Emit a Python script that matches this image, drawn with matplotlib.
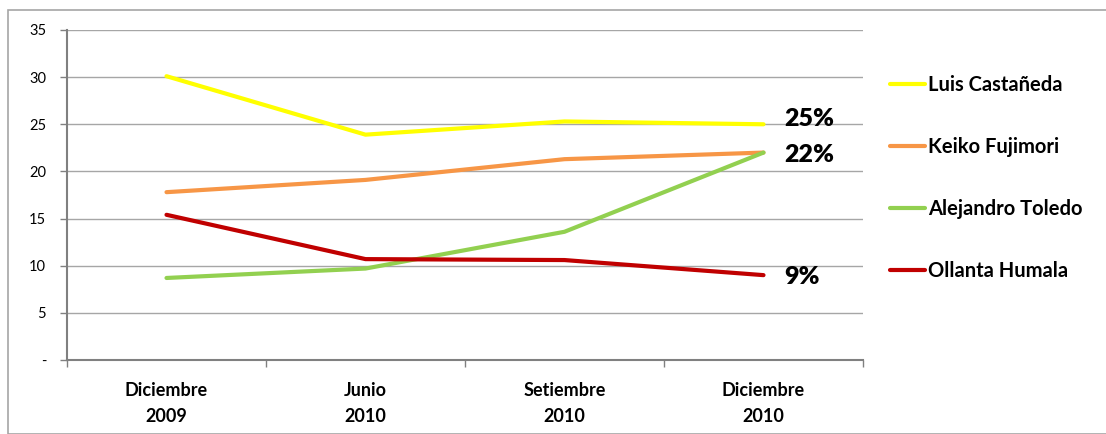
import matplotlib
matplotlib.use("Agg")
import matplotlib.pyplot as plt
from matplotlib.patches import Rectangle

# data
categories = ["Diciembre\n2009", "Junio\n2010", "Setiembre\n2010", "Diciembre\n2010"]
castaneda = [30.1, 23.9, 25.3, 25.0]
fujimori = [17.8, 19.1, 21.3, 22.0]
toledo = [8.7, 9.7, 13.6, 22.0]
humala = [15.4, 10.7, 10.6, 9.0]
series_names = ["Luis Castañeda", "Keiko Fujimori", "Alejandro Toledo", "Ollanta Humala"]
end_labels = {"Luis Castañeda": "25%", "Alejandro Toledo": "22%", "Ollanta Humala": "9%"}
y_ticks = [0, 5, 10, 15, 20, 25, 30, 35]
y_tick_labels = ["-", "5", "10", "15", "20", "25", "30", "35"]

colors = ["#FFFF00", "#F79646", "#92D050", "#C00000"]
label_offsets = {"Luis Castañeda": 4, "Alejandro Toledo": -2, "Ollanta Humala": -1}

plt.rcParams['font.family'] = ['Lato', 'DejaVu Sans']

fig = plt.figure(figsize=(11.06, 4.34), dpi=100)
# outer chart border
fig.patches.append(Rectangle((8 / 1106, 0), 1.0, 1 - 10 / 434, transform=fig.transFigure,
                             fill=False, edgecolor="#a6a6a6", linewidth=1.2))

ax = fig.add_axes([67 / 1106, 74 / 434, (863 - 67) / 1106, 330 / 434])

x = list(range(len(categories)))
lines = []
for name, vals, c in zip(series_names, [castaneda, fujimori, toledo, humala], colors):
    ln, = ax.plot(x, vals, color=c, linewidth=3, solid_capstyle="round", label=name)
    lines.append(ln)
    if name in end_labels:
        ax.annotate(end_labels[name], (x[-1], vals[-1]), xytext=(15, label_offsets[name]),
                    textcoords="offset points", fontsize=18, fontweight="heavy",
                    va="center", ha="left")

ax.set_xlim(-0.5, len(categories) - 0.5)
ax.set_ylim(0, 35)
ax.set_yticks(y_ticks)
ax.set_yticklabels(y_tick_labels, fontsize=10.5)
ax.set_xticks(x)
ax.set_xticklabels(categories, fontsize=13, fontweight="bold", linespacing=1.6)
ax.set_xticks([i - 0.5 for i in range(len(categories) + 1)], minor=True)
ax.tick_params(axis="x", which="major", length=0, pad=16)
ax.tick_params(axis="x", which="minor", length=5, color="#808080", width=1)
ax.tick_params(axis="y", length=5, color="#808080", width=1, pad=10)

ax.grid(axis="y", color="#a6a6a6", linewidth=1)
ax.set_axisbelow(True)
for side in ["top", "right"]:
    ax.spines[side].set_visible(False)
for side in ["left", "bottom"]:
    ax.spines[side].set_color("#808080")
    ax.spines[side].set_linewidth(1.5)

leg = fig.legend(handles=lines, loc="upper left", bbox_to_anchor=(890 / 1106, 1 - 75 / 434),
                 frameon=False, handlelength=1.75, handletextpad=0.15, labelspacing=2.08,
                 borderpad=0, borderaxespad=0, prop={"size": 14.5, "weight": "bold"})

plt.savefig("out.png", dpi=100)
